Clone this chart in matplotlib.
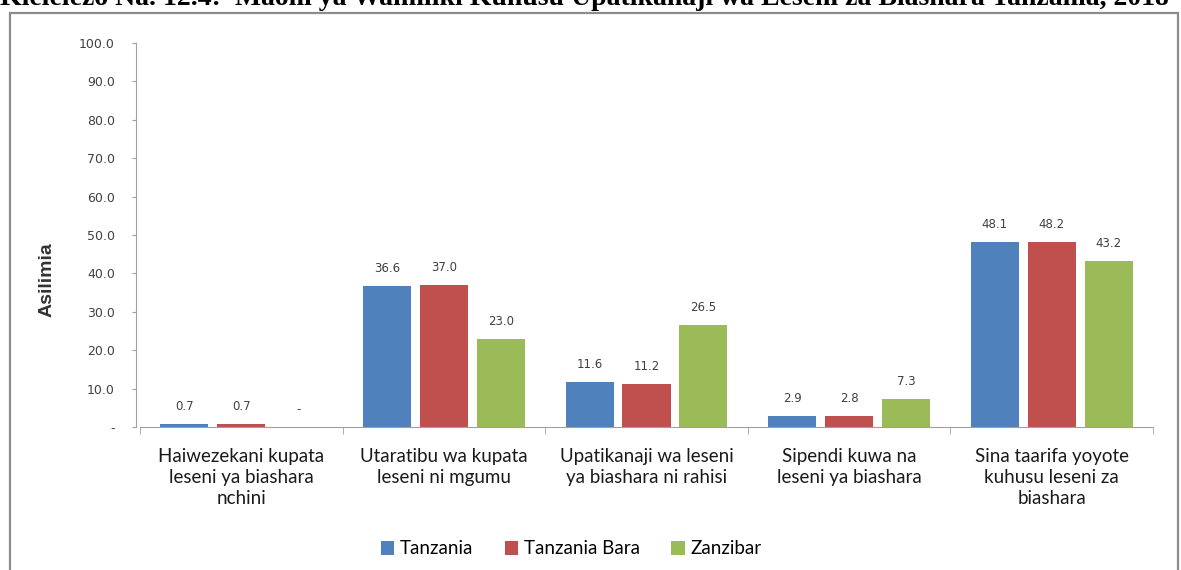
import matplotlib
matplotlib.use("Agg")
import matplotlib.pyplot as plt
from matplotlib.patches import Rectangle
import numpy as np

categories = [
    "Haiwezekani kupata\nleseni ya biashara\nnchini",
    "Utaratibu wa kupata\nleseni ni mgumu",
    "Upatikanaji wa leseni\nya biashara ni rahisi",
    "Sipendi kuwa na\nleseni ya biashara",
    "Sina taarifa yoyote\nkuhusu leseni za\nbiashara",
]
series_names = ["Tanzania", "Tanzania Bara", "Zanzibar"]
tanzania = [0.7, 36.6, 11.6, 2.9, 48.1]
tanzania_bara = [0.7, 37.0, 11.2, 2.8, 48.2]
zanzibar = [0.0, 23.0, 26.5, 7.3, 43.2]
yticks = [0, 10, 20, 30, 40, 50, 60, 70, 80, 90, 100]
ytick_labels = ["-", "10.0", "20.0", "30.0", "40.0", "50.0", "60.0", "70.0", "80.0", "90.0", "100.0"]
title = "Kielelezo Na. 12.4:  Maoni ya Wamiliki Kuhusu Upatikanaji wa Leseni za Biashara Tanzania, 2018"

colors = ["#4F81BD", "#C0504D", "#9BBB59"]

W, H = 1181, 570
fig = plt.figure(figsize=(W / 100, H / 100), dpi=100)

# outer chart frame
fig.patches.append(Rectangle((10 / W, -0.05), 1168 / W, 1 - 13 / H + 0.05,
                             transform=fig.transFigure, fill=False,
                             edgecolor="#8c8c8c", linewidth=1.6))
# title (cut off at top, as in the reference)
fig.text(0.0, 1 - 5 / H, title, fontsize=20, fontweight="bold",
         family="Liberation Serif", va="baseline", ha="left", color="black")

ax = fig.add_axes([140 / W, 1 - 427 / H, 1013 / W, 384 / H])
x = np.arange(len(categories))
step = 0.281
width = 0.237
data = [tanzania, tanzania_bara, zanzibar]
for i, (vals, name, c) in enumerate(zip(data, series_names, colors)):
    pos = x + (i - 1) * step
    ax.bar(pos, vals, width=width, color=c, label=name)
    for p, v in zip(pos, vals):
        lbl = f"{v:.1f}" if v > 0 else "-"
        ax.annotate(lbl, (p, v), xytext=(0, 8), textcoords="offset points",
                    ha="center", va="bottom", fontsize=8.5, color="#404040")

ax.set_xlim(-0.5, 4.5)
ax.set_ylim(0, 100)
ax.set_yticks(yticks)
ax.set_yticklabels(ytick_labels)
ax.tick_params(axis="y", length=3, color="#a0a0a0", pad=12, labelsize=9,
               labelcolor="#404040")
ax.set_xticks(x)
ax.set_xticklabels(categories, fontsize=13.5, family="Lato", linespacing=1.28,
                   color="#1a1a1a")
ax.tick_params(axis="x", which="major", length=0, pad=15)
ax.set_xticks(np.arange(-0.5, 5, 1), minor=True)
ax.tick_params(axis="x", which="minor", length=5, color="#a0a0a0")

for s in ["top", "right"]:
    ax.spines[s].set_visible(False)
for s in ["left", "bottom"]:
    ax.spines[s].set_color("#a0a0a0")
ax.spines["left"].set_position(("outward", 3))

ax.set_ylabel("Asilimia", fontsize=14, fontweight="bold", family="Liberation Sans",
              color="#333333")
ax.yaxis.set_label_coords(-84 / 1013, 0.383)

fig.legend(loc="center", bbox_to_anchor=(571 / W, 1 - 549 / H), ncol=3,
           frameon=False, prop={"family": "Lato", "size": 13.5},
           handlelength=0.7, handleheight=0.7, handletextpad=0.3,
           columnspacing=1.7)

fig.savefig("out.png", dpi=100)
